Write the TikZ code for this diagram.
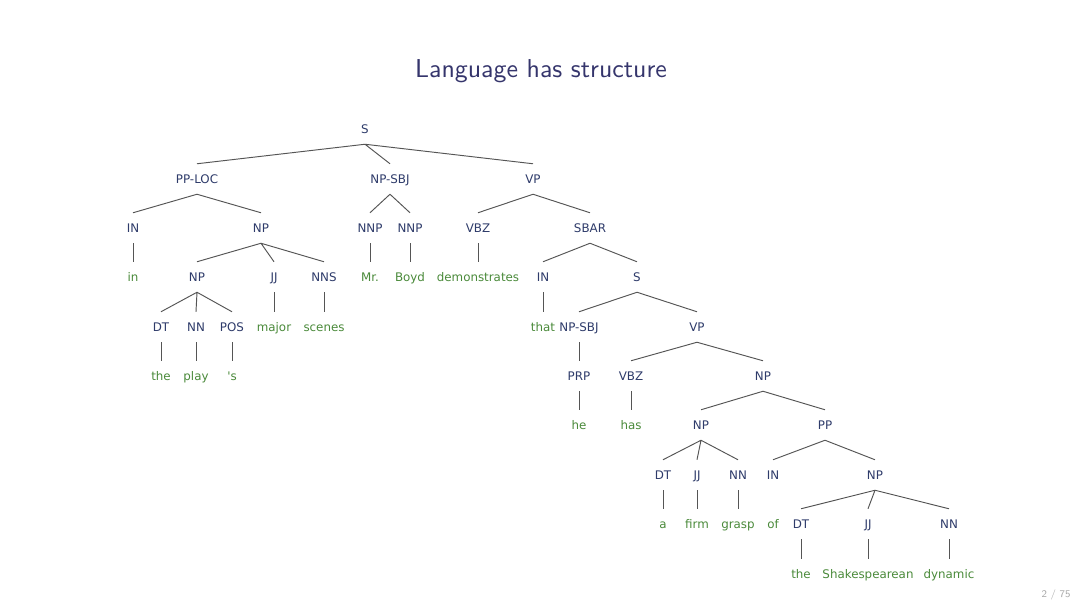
\documentclass[tikz,border=0pt]{standalone}
\usepackage{fontspec}
\newfontfamily\arbolfont{DejaVu Sans}
\definecolor{arbolTitulo}{HTML}{35356C}
\definecolor{arbolNavy}{HTML}{2E3B6A}
\definecolor{arbolVerde}{HTML}{4A8A3A}
\definecolor{arbolRama}{HTML}{555555}
\definecolor{arbolGris}{HTML}{A8A8A8}
\usetikzlibrary{positioning}
\tikzset{
	etiqueta/.style={
		font=\arbolfont\fontsize{5}{5}\selectfont,
		text=arbolNavy,
		inner xsep=1pt,
		inner ysep=4.4pt,
		text height=3.65pt,
		text depth=0pt
	},
	palabra/.style={
		etiqueta,
		text=arbolVerde
	},
	rama/.style={
		draw=arbolRama,
		line width=0.4pt
	}
}
\begin{document}
\begin{tikzpicture}[x=0.0148148cm, y=-0.0148148cm]
		\useasboundingbox[fill=white] (0,0) rectangle (1080,607);
		\node[anchor=base, text=arbolTitulo, font=\sffamily\fontsize{10.9}{13}\selectfont] (titulo) at (541,77) {Language has structure};
		\node[text=arbolGris, font=\sffamily\fontsize{4.3}{5}\selectfont] (pagina) at (1056,595) {2 / 75};
		\node[etiqueta] (s) at (365,129) {S};
		\node[etiqueta] (pploc) at (197,179) {PP-LOC};
		\node[etiqueta] (npsbj) at (390,179) {NP-SBJ};
		\node[etiqueta] (vp) at (533,179) {VP};
		\node[etiqueta] (inA) at (133,228) {IN};
		\node[etiqueta] (npA) at (261,228) {NP};
		\node[etiqueta] (nnpA) at (370,228) {NNP};
		\node[etiqueta] (nnpB) at (410,228) {NNP};
		\node[etiqueta] (vbzA) at (478,228) {VBZ};
		\node[etiqueta] (sbar) at (590,228) {SBAR};
		\node[palabra] (wIn) at (133,277) {in};
		\node[etiqueta] (npB) at (197,277) {NP};
		\node[etiqueta] (jjA) at (274,277) {JJ};
		\node[etiqueta] (nns) at (324,277) {NNS};
		\node[palabra] (wMr) at (370,277) {Mr.};
		\node[palabra] (wBoyd) at (410,277) {Boyd};
		\node[palabra] (wDem) at (478,277) {demonstrates};
		\node[etiqueta] (inB) at (543,277) {IN};
		\node[etiqueta] (sB) at (637,277) {S};
		\node[etiqueta] (dtA) at (161,327) {DT};
		\node[etiqueta] (nnA) at (196,327) {NN};
		\node[etiqueta] (pos) at (232,327) {POS};
		\node[palabra] (wMajor) at (274,327) {major};
		\node[palabra] (wScenes) at (324,327) {scenes};
		\node[palabra] (wThat) at (543,327) {that};
		\node[etiqueta] (npsbjB) at (579,327) {NP-SBJ};
		\node[etiqueta] (vpB) at (697,327) {VP};
		\node[palabra] (wThe) at (161,376) {the};
		\node[palabra] (wPlay) at (196,376) {play};
		\node[palabra] (wPos) at (232,376) {'s};
		\node[etiqueta] (prp) at (579,376) {PRP};
		\node[etiqueta] (vbzB) at (631,376) {VBZ};
		\node[etiqueta] (npC) at (763,376) {NP};
		\node[palabra] (wHe) at (579,425) {he};
		\node[palabra] (wHas) at (631,425) {has};
		\node[etiqueta] (npD) at (701,425) {NP};
		\node[etiqueta] (pp) at (825,425) {PP};
		\node[etiqueta] (dtB) at (663,475) {DT};
		\node[etiqueta] (jjB) at (697,475) {JJ};
		\node[etiqueta] (nnB) at (738,475) {NN};
		\node[etiqueta] (inC) at (773,475) {IN};
		\node[etiqueta] (npE) at (875,475) {NP};
		\node[palabra] (wA) at (663,524) {a};
		\node[palabra] (wFirm) at (697,524) {firm};
		\node[palabra] (wGrasp) at (738,524) {grasp};
		\node[palabra] (wOf) at (773,524) {of};
		\node[etiqueta] (dtC) at (801,524) {DT};
		\node[etiqueta] (jjC) at (868,524) {JJ};
		\node[etiqueta] (nnC) at (949,524) {NN};
		\node[palabra] (wThe2) at (801,574) {the};
		\node[palabra] (wShak) at (868,574) {Shakespearean};
		\node[palabra] (wDyn) at (949,574) {dynamic};
		\draw[rama] (s.south) -- (pploc.north) (s.south) -- (npsbj.north) (s.south) -- (vp.north);
		\draw[rama] (pploc.south) -- (inA.north) (pploc.south) -- (npA.north);
		\draw[rama] (npsbj.south) -- (nnpA.north) (npsbj.south) -- (nnpB.north);
		\draw[rama] (vp.south) -- (vbzA.north) (vp.south) -- (sbar.north);
		\draw[rama] (inA.south) -- (wIn.north);
		\draw[rama] (npA.south) -- (npB.north) (npA.south) -- (jjA.north) (npA.south) -- (nns.north);
		\draw[rama] (nnpA.south) -- (wMr.north);
		\draw[rama] (nnpB.south) -- (wBoyd.north);
		\draw[rama] (vbzA.south) -- (wDem.north);
		\draw[rama] (sbar.south) -- (inB.north) (sbar.south) -- (sB.north);
		\draw[rama] (npB.south) -- (dtA.north) (npB.south) -- (nnA.north) (npB.south) -- (pos.north);
		\draw[rama] (jjA.south) -- (wMajor.north);
		\draw[rama] (nns.south) -- (wScenes.north);
		\draw[rama] (inB.south) -- (wThat.north);
		\draw[rama] (sB.south) -- (npsbjB.north) (sB.south) -- (vpB.north);
		\draw[rama] (dtA.south) -- (wThe.north);
		\draw[rama] (nnA.south) -- (wPlay.north);
		\draw[rama] (pos.south) -- (wPos.north);
		\draw[rama] (npsbjB.south) -- (prp.north);
		\draw[rama] (vpB.south) -- (vbzB.north) (vpB.south) -- (npC.north);
		\draw[rama] (prp.south) -- (wHe.north);
		\draw[rama] (vbzB.south) -- (wHas.north);
		\draw[rama] (npC.south) -- (npD.north) (npC.south) -- (pp.north);
		\draw[rama] (npD.south) -- (dtB.north) (npD.south) -- (jjB.north) (npD.south) -- (nnB.north);
		\draw[rama] (pp.south) -- (inC.north) (pp.south) -- (npE.north);
		\draw[rama] (dtB.south) -- (wA.north);
		\draw[rama] (jjB.south) -- (wFirm.north);
		\draw[rama] (nnB.south) -- (wGrasp.north);
		\draw[rama] (npE.south) -- (dtC.north) (npE.south) -- (jjC.north) (npE.south) -- (nnC.north);
		\draw[rama] (dtC.south) -- (wThe2.north);
		\draw[rama] (jjC.south) -- (wShak.north);
		\draw[rama] (nnC.south) -- (wDyn.north);
	\end{tikzpicture}
\end{document}
